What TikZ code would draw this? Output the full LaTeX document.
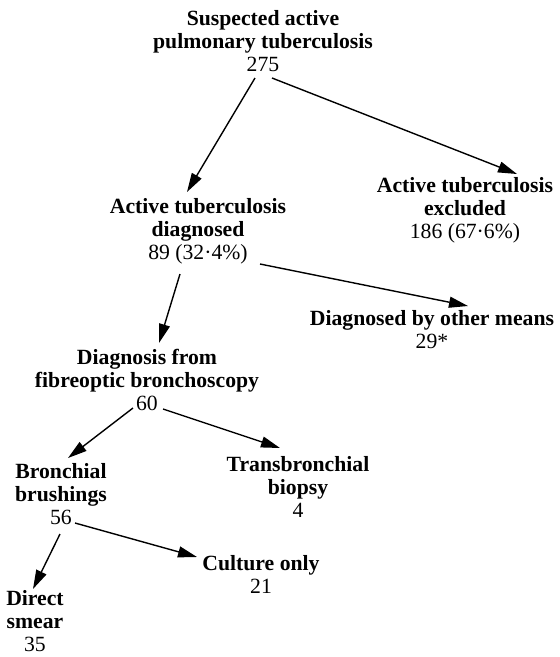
\documentclass[tikz,border=0pt]{standalone}
\usepackage{fontspec}
\setmainfont{Liberation Serif}
\usetikzlibrary{arrows.meta,calc}
\begin{document}
\begin{tikzpicture}[x=1pt,y=-1pt,
    main/.style = {align=center, inner sep=0pt, font=\fontsize{21.7}{23}\selectfont},
    arr/.style = {line width=1.4pt, -{Triangle[length=19pt,width=11pt]}}]
  \useasboundingbox (0,0) rectangle (560,657);
  \node[main] (suspect) at (263,41) {\textbf{Suspected active}\\\textbf{pulmonary tuberculosis}\\275};
  \node[main] (diag) at (198,231) {\textbf{Active tuberculosis}\\\textbf{diagnosed}\\89 (32·4\%)};
  \node[main] (excl) at (465,210) {\textbf{Active tuberculosis}\\\textbf{excluded}\\186 (67·6\%)};
  \node[main] (other) at (432,330) {\textbf{Diagnosed by other means}\\29*};
  \node[main] (fob) at (147,380) {\textbf{Diagnosis from}\\\textbf{fibreoptic bronchoscopy}\\60};
  \node[main] (brush) at (61,494) {\textbf{Bronchial}\\\textbf{brushings}\\56};
  \node[main] (tbb) at (298,487) {\textbf{Transbronchial}\\\textbf{biopsy}\\4};
  \node[main] (cult) at (261,574) {\textbf{Culture only}\\21};
  \node[main] (smear) at (35,621) {\textbf{Direct}\\\textbf{smear}\\35};
  \draw[arr] ($(suspect)+(-8,37)$) -- ($(diag)+(-11,-39)$);
  \draw[arr] ($(suspect)+(9,37)$) -- ($(excl)+(52,-36)$);
  \draw[arr] ($(diag)+(-18,43)$) -- ($(fob)+(12,-37)$);
  \draw[arr] ($(diag)+(62,33)$) -- ($(other)+(36,-24)$);
  \draw[arr] ($(fob)+(-14,28)$) -- ($(brush)+(7,-36)$);
  \draw[arr] ($(fob)+(16,29)$) -- ($(tbb)+(-18,-39)$);
  \draw[arr] ($(brush)+(14,29)$) -- ($(cult)+(-64,-17)$);
  \draw[arr] ($(brush)+(-1,40)$) -- ($(smear)+(-2,-32)$);
\end{tikzpicture}
\end{document}
